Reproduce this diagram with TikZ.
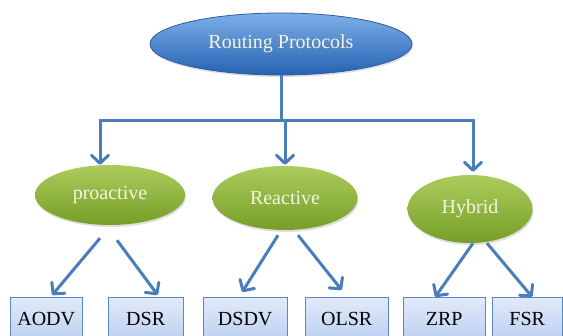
\documentclass[tikz,border=0pt]{standalone}
\usepackage{fontspec}
\setmainfont{Liberation Serif}
\usetikzlibrary{shapes.geometric}
\usetikzlibrary{arrows.meta, shadows}

\definecolor{linkblue}{RGB}{74,126,187}
\definecolor{rootTop}{RGB}{125,175,232}
\definecolor{rootBot}{RGB}{38,98,178}
\definecolor{rootEdge}{RGB}{45,90,160}
\definecolor{kindTop}{RGB}{172,204,92}
\definecolor{kindBot}{RGB}{118,158,40}
\definecolor{boxTop}{RGB}{226,234,250}
\definecolor{boxBot}{RGB}{172,196,236}
\definecolor{boxEdge}{RGB}{95,135,195}
\definecolor{paleText}{RGB}{244,244,226}

\tikzset{
  root/.style={ellipse,shade,top color=rootTop,bottom color=rootBot,draw=rootEdge,
    thick,minimum width=262pt,minimum height=62pt,text=paleText,
    drop shadow={opacity=0.25,shadow xshift=1pt,shadow yshift=-2pt}},
  kind/.style={ellipse,shade,top color=kindTop,bottom color=kindBot,draw=none,
    text=paleText,drop shadow={opacity=0.25,shadow xshift=1pt,shadow yshift=-2pt}},
  proto/.style={rectangle,shade,top color=boxTop,bottom color=boxBot,draw=boxEdge,
    anchor=north west,text depth=20pt,text height=13pt,
    inner ysep=15pt,text=black},
  arr/.style={draw=linkblue,line width=3pt,
    -{Straight Barb[length=8pt,width=17pt,line width=3pt,round]}},
  bar/.style={draw=linkblue,line width=3pt},
}

\begin{document}
\begin{tikzpicture}[x=1pt,y=-1pt,font=\fontsize{20}{24}\selectfont]
\useasboundingbox (0,0) rectangle (563,336);

% root and the three families
\node[root] (root) at (281,44) {Routing Protocols};
\node[kind,minimum width=150pt,minimum height=60pt] (pro) at (110,195) {proactive};
\node[kind,minimum width=145pt,minimum height=64pt] (rea) at (285,198) {Reactive};
\node[kind,minimum width=125pt,minimum height=68pt] (hyb) at (470,209) {Hybrid};

% protocols
\node[proto,minimum width=72pt] (aodv) at (10,297) {AODV};
\node[proto,minimum width=75pt] (dsr) at (108,297) {DSR};
\node[proto,minimum width=84pt] (dsdv) at (203,297) {DSDV};
\node[proto,minimum width=83pt] (olsr) at (305,297) {OLSR};
\node[proto,minimum width=82pt] (zrp) at (403,297) {ZRP};
\node[proto,minimum width=70pt] (fsr) at (492,297) {FSR};

% tree bar
\coordinate (mid) at (root.south |- 0,121);
\coordinate (jl) at (100,121);
\coordinate (jr) at (473,121);
\draw[bar] (root.south) -- (mid);
\draw[bar,line cap=rect] (jl) -- (jr);
\draw[arr] (jl) -- (jl |- pro.north);
\draw[arr] (mid -| rea.north) -- ([yshift=1pt]rea.north);
\draw[arr] (jr) -- ([yshift=3pt]jr |- hyb.north);

% families to protocols
\draw[arr] ([xshift=-10pt,yshift=-13pt]pro.south) -- ([xshift=6pt,yshift=2pt]aodv.north);
\draw[arr] ([xshift=7pt,yshift=-15pt]pro.south) -- ([xshift=12pt,yshift=2pt]dsr.north);
\draw[arr] ([xshift=-7pt,yshift=-5pt]rea.south) -- ([xshift=-3pt,yshift=5pt]dsdv.north);
\draw[arr] ([xshift=13pt,yshift=-5pt]rea.south) -- ([xshift=-5pt,yshift=7pt]olsr.north);
\draw[arr] ([xshift=3pt]hyb.south) -- ([xshift=-9pt]zrp.north);
\draw[arr] ([xshift=17pt]hyb.south) -- ([xshift=5pt]fsr.north);

\end{tikzpicture}
\end{document}
